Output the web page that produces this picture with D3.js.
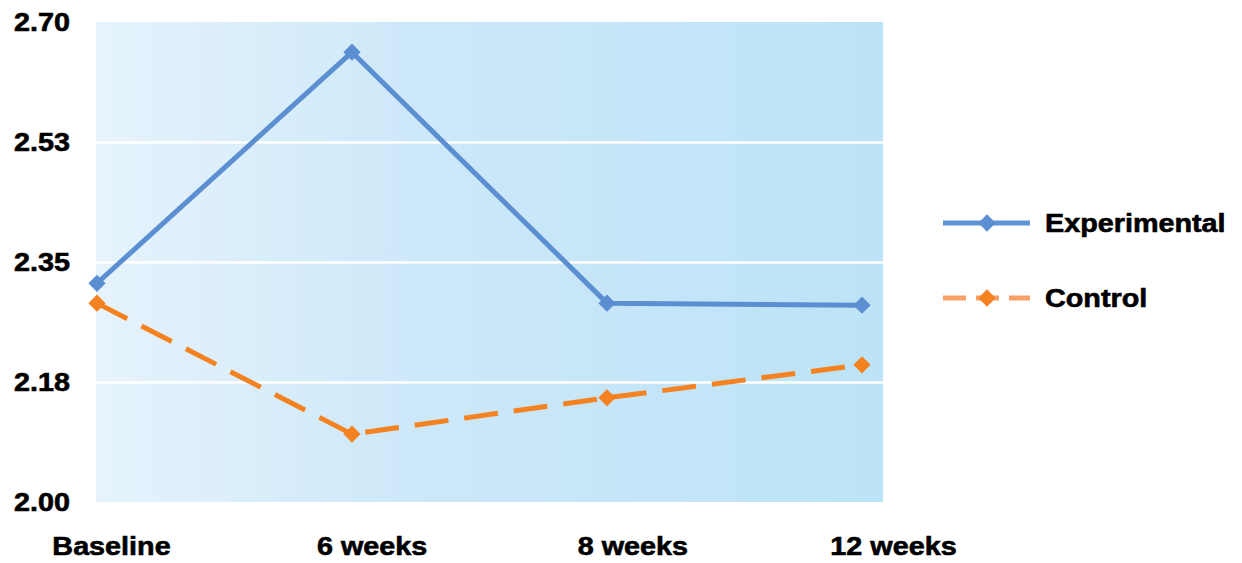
<!DOCTYPE html>
<html>
<head>
<meta charset="utf-8">
<script src="https://cdn.jsdelivr.net/npm/d3@7"></script>
<style>
  body { margin: 0; background: #fff; }
  svg text { font-family: "Liberation Sans", Arial, sans-serif; font-weight: bold; fill: #000; stroke: #000; stroke-width: 0.6px; }
</style>
</head>
<body>
<div id="chart"></div>
<script>
// data
const categories = ["Baseline", "6 weeks", "8 weeks", "12 weeks"];
const experimental = [2.319, 2.656, 2.290, 2.287];
const control = [2.290, 2.099, 2.152, 2.200];
const yTicks = [2.0, 2.175, 2.35, 2.525, 2.7];
const yTickLabels = ["2.00", "2.18", "2.35", "2.53", "2.70"];
const seriesNames = ["Experimental", "Control"];

const width = 1242, height = 563;
const plot = { left: 96, right: 883, top: 22, bottom: 502 };
const stretch = 1.15; // text in the reference is drawn a bit wide

const svg = d3.select("#chart").append("svg").attr("width", width).attr("height", height);

// scales
const xScale = d3.scalePoint().domain(categories).range([97, 862]);
const xLabelScale = d3.scalePoint().domain(categories).range([111, 893]);
const yScale = d3.scaleLinear().domain([2.0, 2.7]).range([plot.bottom, plot.top]);

// background gradient
const defs = svg.append("defs");
const grad = defs.append("linearGradient").attr("id", "bg").attr("x1", "0").attr("x2", "1").attr("y1", "0").attr("y2", "0");
grad.append("stop").attr("offset", "0%").attr("stop-color", "#e6f3fc");
grad.append("stop").attr("offset", "40%").attr("stop-color", "#cde8f9");
grad.append("stop").attr("offset", "100%").attr("stop-color", "#bce3f7");

svg.append("rect")
  .attr("x", plot.left).attr("y", plot.top)
  .attr("width", plot.right - plot.left).attr("height", plot.bottom - plot.top)
  .attr("fill", "url(#bg)");

// gridlines
svg.append("g")
  .attr("transform", "translate(" + plot.left + ",0)")
  .call(d3.axisRight(yScale).tickValues(yTicks.slice(1, -1)).tickSize(plot.right - plot.left).tickFormat(""))
  .call(g => g.select(".domain").remove())
  .call(g => g.selectAll("line").attr("stroke", "#fff").attr("stroke-width", 2.5));

// y axis labels
const yAxis = svg.append("g")
  .attr("transform", "translate(" + (70 / stretch) + ",0) ")
  .call(d3.axisLeft(yScale).tickValues(yTicks).tickSize(0).tickPadding(0)
    .tickFormat((d, i) => yTickLabels[i]));
yAxis.attr("transform", "scale(" + stretch + ",1) translate(" + (70 / stretch) + ",0)");
yAxis.select(".domain").remove();
yAxis.selectAll("text")
  .attr("font-size", 25).attr("font-family", "'Liberation Sans', Arial, sans-serif")
  .attr("font-weight", "bold").attr("fill", "#000");

// x axis labels
const xAxis = svg.append("g")
  .attr("transform", "translate(0,546)")
  .call(d3.axisBottom(xLabelScale).tickSize(0).tickPadding(0));
xAxis.select(".domain").remove();
xAxis.selectAll(".tick text")
  .attr("font-size", 25).attr("font-family", "'Liberation Sans', Arial, sans-serif")
  .attr("font-weight", "bold").attr("fill", "#000")
  .attr("dy", "0.35em")
  .attr("transform", "scale(" + stretch + ",1)");

// lines
const line = d3.line().x((d, i) => xScale(categories[i])).y(d => yScale(d));
const diamond = d3.symbol().type(d3.symbolDiamond2).size(190);

function drawSeries(values, color, dash) {
  svg.append("path")
    .datum(values)
    .attr("d", line)
    .attr("fill", "none")
    .attr("stroke", color)
    .attr("stroke-width", 5)
    .attr("stroke-dasharray", dash)
    .attr("stroke-linejoin", "round");
  svg.append("g")
    .selectAll("path")
    .data(values)
    .enter()
    .append("path")
    .attr("d", diamond)
    .attr("transform", (d, i) => "translate(" + xScale(categories[i]) + "," + yScale(d) + ")")
    .attr("fill", color);
}

drawSeries(experimental, "#5b8fd1", null);
drawSeries(control, "#f58220", "34,16");

// legend
const legend = svg.append("g");
const legendItems = [
  { name: seriesNames[0], color: "#5e93d5", marker: "#5b8fd1", dash: null, y: 223 },
  { name: seriesNames[1], color: "#f7a068", marker: "#f58220", dash: "23,10", y: 298 }
];
legendItems.forEach(function (it) {
  legend.append("line")
    .attr("x1", 943).attr("x2", 1030).attr("y1", it.y).attr("y2", it.y)
    .attr("stroke", it.color).attr("stroke-width", 5)
    .attr("stroke-dasharray", it.dash);
  legend.append("path")
    .attr("d", diamond)
    .attr("transform", "translate(987," + it.y + ")")
    .attr("fill", it.marker);
  legend.append("text")
    .attr("x", 1045 / stretch).attr("y", it.y)
    .attr("dy", "0.35em")
    .attr("font-size", 25)
    .attr("transform", "scale(" + stretch + ",1)")
    .text(it.name);
});
</script>
</body>
</html>
